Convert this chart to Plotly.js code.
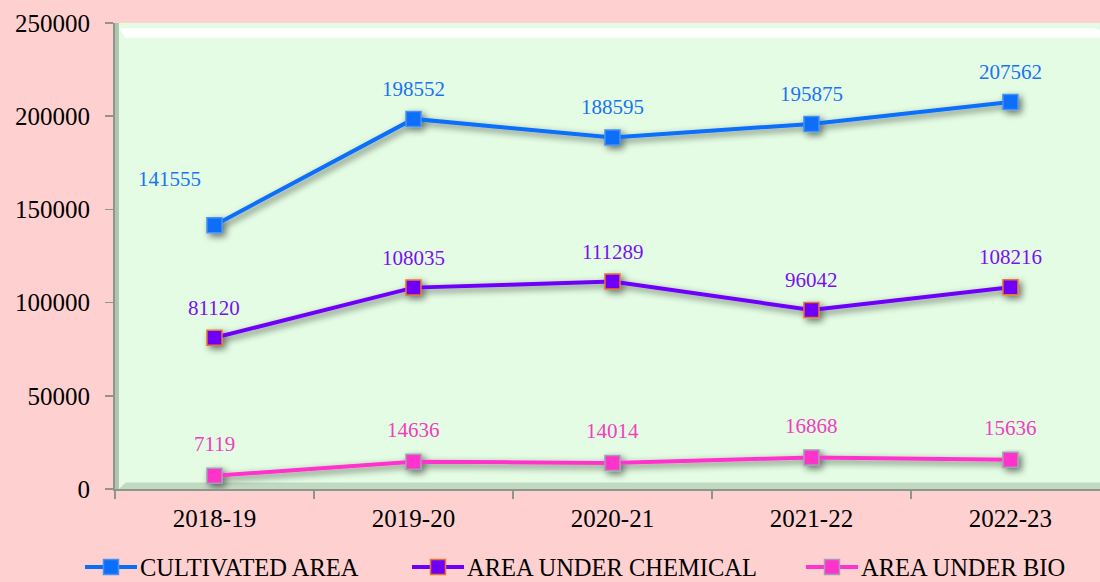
<!DOCTYPE html>
<html>
<head>
<meta charset="utf-8">
<script src="https://cdn.plot.ly/plotly-3.0.1.min.js"></script>
<style>
html,body{margin:0;padding:0;background:#FFD0D0;}
#chart{width:1100px;height:582px;}
</style>
</head>
<body>
<div id="chart"></div>
<script>
const years = ["2018-19", "2019-20", "2020-21", "2021-22", "2022-23"];
const cultivatedArea = [141555, 198552, 188595, 195875, 207562];
const chemicalArea = [81120, 108035, 111289, 96042, 108216];
const bioArea = [7119, 14636, 14014, 16868, 15636];
const seriesNames = ["CULTIVATED AREA", "AREA UNDER CHEMICAL", "AREA UNDER BIO"];
const yTicks = [0, 50000, 100000, 150000, 200000, 250000];

const FONT = "Liberation Serif";
const lineColors = ["#0A6EFA", "#6E00FA", "#FF33CC"];
const markerBorders = ["#4A90F0", "#E8762A", "#A0A0B0"];
const labelColors = ["#1A73F5", "#7A10F5", "#F040C0"];
const seriesData = [cultivatedArea, chemicalArea, bioArea];
const legendIds = ["legend", "legend2", "legend3"];
const legendX = [100, 427, 821];

const traces = seriesData.map((vals, i) => ({
  type: "scatter",
  mode: "lines+markers",
  x: years,
  y: vals,
  name: seriesNames[i],
  legend: legendIds[i],
  line: {color: lineColors[i], width: 4},
  marker: {symbol: "square", size: 15, color: lineColors[i], line: {color: markerBorders[i], width: 1.5}},
  hoverinfo: "x+y"
}));

const annotations = [];
seriesData.forEach((vals, i) => {
  vals.forEach((v, j) => {
    let xs = 0, ys = (i === 2) ? 32 : 30;
    if (i === 0 && j === 0) { xs = -45; ys = 46; }
    annotations.push({
      x: years[j], y: v, xref: "x", yref: "y",
      text: String(v), showarrow: false,
      xshift: xs, yshift: ys,
      font: {family: FONT, size: 21, color: labelColors[i]}
    });
  });
});

function legendCfg(i) {
  return {
    orientation: "h", xref: "container", yref: "container",
    x: legendX[i] / 1100, xanchor: "left", y: 1 - 567 / 582, yanchor: "middle",
    font: {size: 24.5, family: FONT, color: "#000"},
    bgcolor: "rgba(0,0,0,0)", borderwidth: 0
  };
}

const layout = {
  width: 1100, height: 582,
  paper_bgcolor: "#FFD0D0",
  plot_bgcolor: "#E3FCE3",
  margin: {l: 115, r: 0, t: 23, b: 93, pad: 0, autoexpand: false},
  font: {family: FONT, size: 20, color: "#000"},
  xaxis: {
    type: "category",
    range: [-0.5, 4.45],
    showgrid: false, zeroline: false,
    showline: true, linecolor: "#8C968C", linewidth: 2,
    ticks: "outside", ticklen: 8, tickcolor: "#8C968C", tickwidth: 1.5,
    tickson: "boundaries",
    ticklabelstandoff: 6,
    tickfont: {size: 25, family: FONT, color: "#000"},
    fixedrange: true
  },
  yaxis: {
    range: [0, 250000],
    tickvals: yTicks,
    ticktext: yTicks.map(String),
    showgrid: false, zeroline: false,
    showline: true, linecolor: "#8C968C", linewidth: 2,
    ticks: "outside", ticklen: 8, tickcolor: "#8C968C", tickwidth: 1.5,
    ticklabelstandoff: 10,
    tickfont: {size: 25, family: FONT, color: "#000"},
    fixedrange: true
  },
  showlegend: true,
  legend: legendCfg(0),
  legend2: legendCfg(1),
  legend3: legendCfg(2),
  shapes: [
    {type: "path", xref: "paper", yref: "paper", layer: "below",
     path: "M 0.004 0.989 L 0.995 0.989 L 1 0.984 L 1 0.968 L 0.011 0.968 Z", fillcolor: "#FFFFFF", line: {width: 0}},
    {type: "rect", xref: "paper", yref: "paper", layer: "below",
     x0: 0.0, x1: 0.004, y0: 0, y1: 1, fillcolor: "rgba(110,130,110,0.45)", line: {width: 0}},
    {type: "path", xref: "paper", yref: "paper", layer: "below",
     path: "M 0.004 0 L 1 0 L 1 0.014 L 0.011 0.014 Z", fillcolor: "rgba(150,175,150,0.45)", line: {width: 0}}
  ],
  annotations: annotations
};

function decorate(gd) {
  const svg = gd.querySelector("svg.main-svg");
  const ns = "http://www.w3.org/2000/svg";
  if (!document.getElementById("lineShadow")) {
    let defs = svg.querySelector("defs");
    if (!defs) { defs = document.createElementNS(ns, "defs"); svg.insertBefore(defs, svg.firstChild); }
    const f = document.createElementNS(ns, "filter");
    f.setAttribute("id", "lineShadow");
    f.setAttribute("x", "-10%"); f.setAttribute("y", "-10%");
    f.setAttribute("width", "130%"); f.setAttribute("height", "140%");
    f.innerHTML = '<feGaussianBlur in="SourceAlpha" stdDeviation="3.5"/>' +
      '<feOffset dx="3" dy="3" result="ob"/>' +
      '<feComponentTransfer><feFuncA type="linear" slope="0.55"/></feComponentTransfer>' +
      '<feMerge><feMergeNode/><feMergeNode in="SourceGraphic"/></feMerge>';
    defs.appendChild(f);
  }
  gd.querySelectorAll(".scatterlayer .trace").forEach(t => t.setAttribute("filter", "url(#lineShadow)"));
  // let the legend symbols extend past the legend's clip box
  gd.querySelectorAll(".infolayer g.scrollbox, .infolayer g.scrollbox *").forEach(el => {
    if (el.hasAttribute("clip-path")) el.removeAttribute("clip-path");
  });
  // widen legend symbols to match the reference's longer line samples
  gd.querySelectorAll(".infolayer g.legendlines path").forEach(p => p.setAttribute("d", "M-15,0h52"));
  gd.querySelectorAll(".infolayer g.legendpoints path").forEach(p => {
    p.setAttribute("transform", "translate(11,0)");
  });
}

Plotly.newPlot("chart", traces, layout, {displayModeBar: false, staticPlot: true}).then(gd => {
  decorate(gd);
  setTimeout(() => decorate(gd), 50);
  setTimeout(() => decorate(gd), 300);
});
</script>
</body>
</html>
